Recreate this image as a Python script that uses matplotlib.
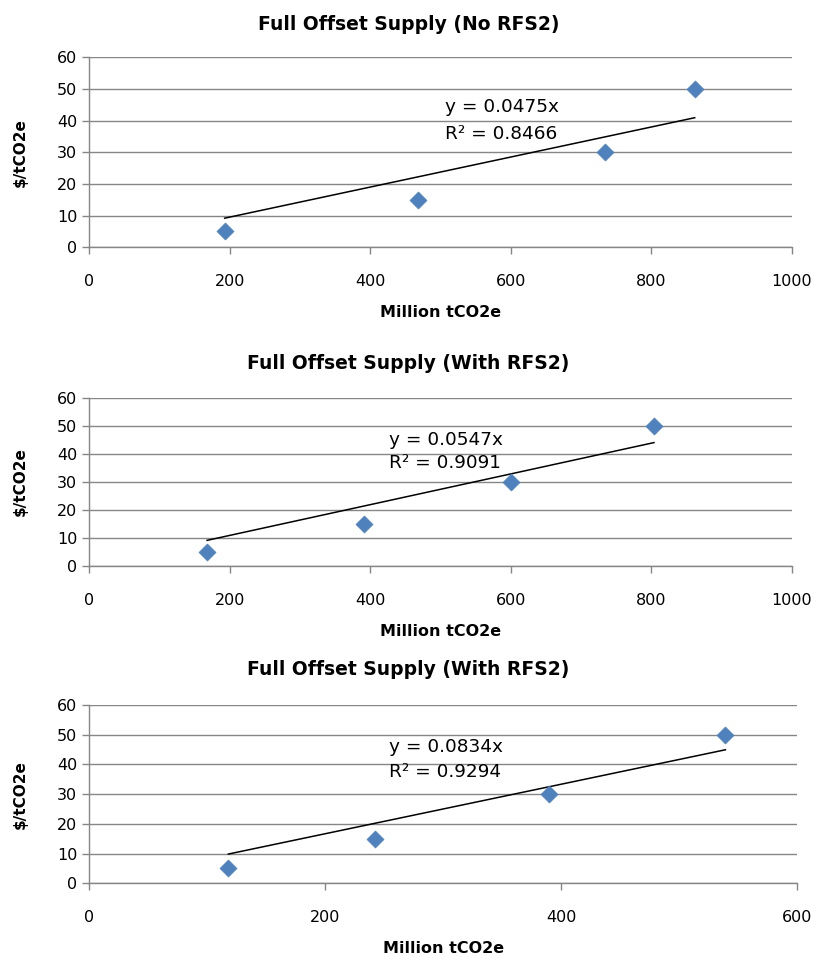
import matplotlib.pyplot as plt

plt.rcParams['font.family'] = ['DejaVu Sans']

titles = ["Full Offset Supply (No RFS2)",
          "Full Offset Supply (With RFS2)",
          "Full Offset Supply (With RFS2)"]

x1 = [193, 468, 734, 862]
x2 = [168, 391, 600, 804]
x3 = [118, 242, 390, 539]
prices = [5, 15, 30, 50]

slopes = [0.0475, 0.0547, 0.0834]
r2 = ["0.8466", "0.9091", "0.9294"]
xmax = [1000, 1000, 600]
xstep = [200, 200, 200]
eq_pos = [(506, 44.2), (427, 45), (254, 45.8)]

# axes rectangles in figure fraction
boxes = [[0.109, 0.742, 0.860, 0.198],
         [0.109, 0.409, 0.860, 0.176],
         [0.109, 0.078, 0.867, 0.186]]
title_y = [0.974, 0.621, 0.301]

blue = "#4F81BD"
grey = "#868686"

fig = plt.figure(figsize=(8.17, 9.58), dpi=100)

for i, xs in enumerate([x1, x2, x3]):
    ax = fig.add_axes(boxes[i])
    ax.scatter(xs, prices, marker="D", s=75, color=blue, zorder=3,
               edgecolors=blue, linewidths=0.5)
    lo, hi = min(xs), max(xs)
    ax.plot([lo, hi], [slopes[i] * lo, slopes[i] * hi], color="black",
            linewidth=1.1, zorder=2)
    ex, ey = eq_pos[i]
    ax.text(ex, ey, f"y = {slopes[i]}x", fontsize=13.3, va="center", ha="left")
    ax.text(ex, ey - 8.3, f"R² = {r2[i]}", fontsize=13.3, va="center", ha="left")

    ax.set_xlim(0, xmax[i])
    ax.set_ylim(0, 60)
    ax.set_xticks(range(0, xmax[i] + 1, xstep[i]))
    ax.set_yticks(range(0, 61, 10))
    ax.yaxis.grid(True, color=grey, linewidth=1.0)
    ax.set_axisbelow(True)
    for s in ["top", "right"]:
        ax.spines[s].set_visible(False)
    for s in ["left", "bottom"]:
        ax.spines[s].set_color(grey)
        ax.spines[s].set_linewidth(1.0)
    ax.tick_params(axis="both", colors=grey, labelcolor="black",
                   labelsize=11.5, length=5, width=1.0)
    ax.tick_params(axis="x", pad=14)
    ax.set_xlabel("Million tCO2e", fontsize=11.5, fontweight="bold", labelpad=12)
    ax.set_ylabel("\\$/tCO2e", fontsize=11, fontweight="bold", labelpad=21)
    fig.text(0.5, title_y[i], titles[i], fontsize=13.5, fontweight="bold",
             ha="center", va="center")

fig.savefig("out.png", dpi=100)
